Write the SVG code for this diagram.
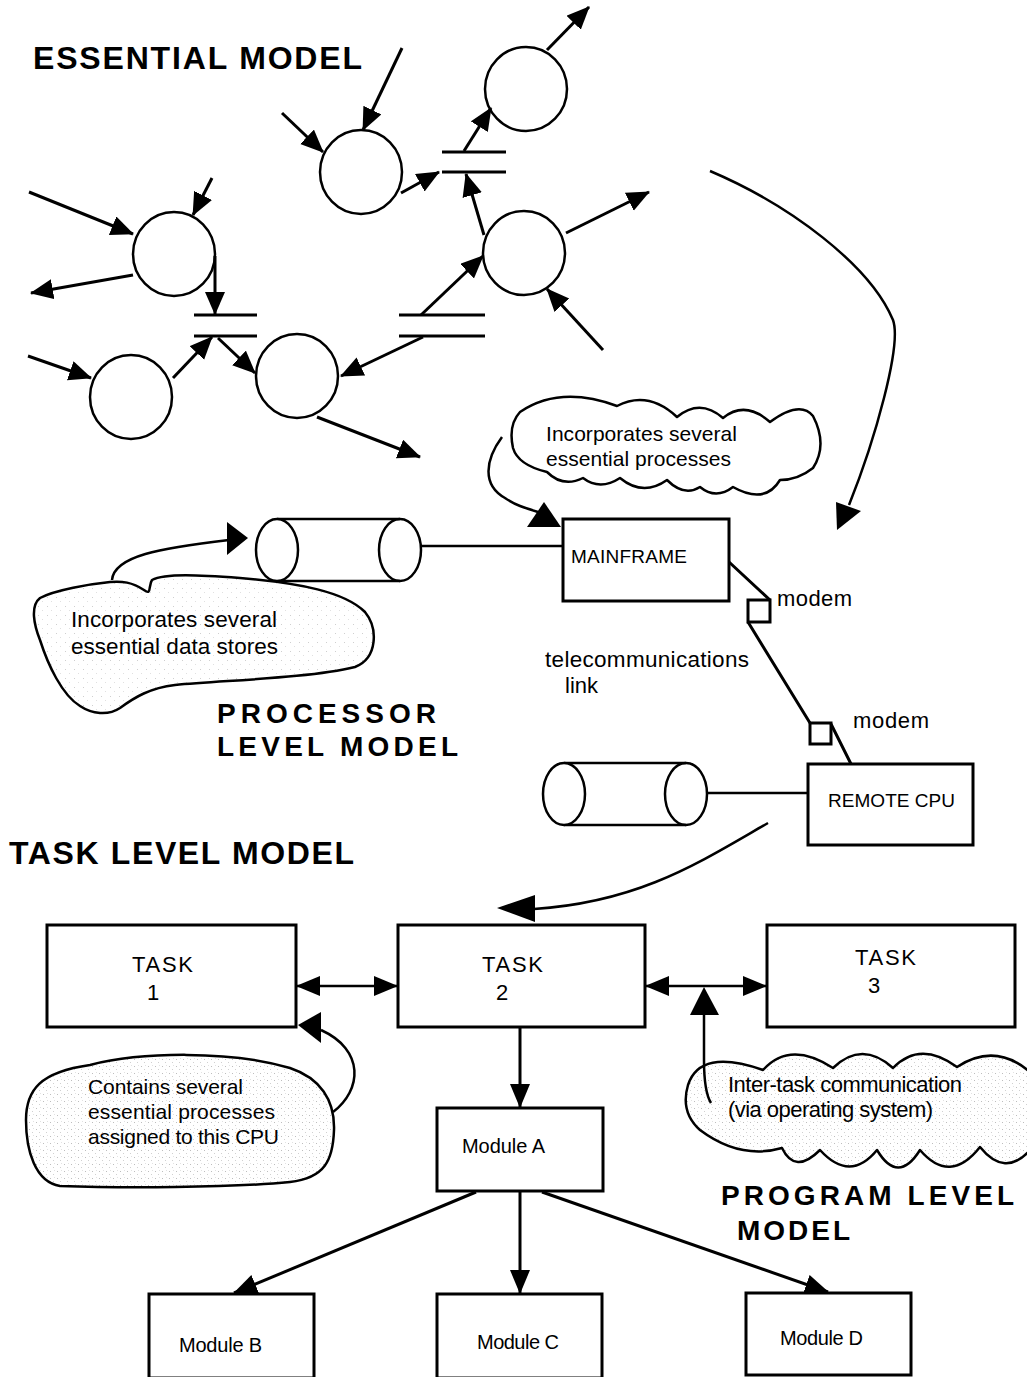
<svg xmlns="http://www.w3.org/2000/svg" width="1027" height="1377" viewBox="0 0 1027 1377">
<style>
.t{font-family:"Liberation Sans",Arial,Helvetica,sans-serif;fill:#000}
.ti{font-weight:bold;font-size:32px}
.ti2{font-weight:bold;font-size:28px}
.s{font-size:20px}
.ln{fill:none;stroke:#000;stroke-width:3}
.thin{fill:none;stroke:#000;stroke-width:2.5}
.shape{fill:#fff;stroke:#000;stroke-width:2.5}
.body{fill:#fff;stroke:none}
.box{fill:#fff;stroke:#000;stroke-width:3}
.cloud{stroke:#000;stroke-width:2.5;stroke-linejoin:round}
.ah{fill:#000;stroke:none}
</style>
<defs>
<marker id="a" markerUnits="userSpaceOnUse" markerWidth="26" markerHeight="22" refX="22" refY="10" orient="auto"><path d="M0,0 L23,10 L0,20 Z" fill="#000"/></marker>
<marker id="b" markerUnits="userSpaceOnUse" markerWidth="26" markerHeight="22" refX="23" refY="10" orient="auto-start-reverse"><path d="M0,0 L24,10 L0,20 Z" fill="#000"/></marker>
<pattern id="stip" width="7" height="7" patternUnits="userSpaceOnUse"><rect width="7" height="7" fill="#fff"/><rect x="1" y="2" width="1" height="1" fill="#bdbdbd"/><rect x="4" y="5" width="1" height="1" fill="#d0d0d0"/><rect x="5" y="1" width="1" height="1" fill="#e2e2e2"/></pattern>
<pattern id="stip2" width="9" height="9" patternUnits="userSpaceOnUse"><rect width="9" height="9" fill="#fff"/><rect x="2" y="3" width="1" height="1" fill="#cfcfcf"/><rect x="6" y="7" width="1" height="1" fill="#e0e0e0"/></pattern>
</defs>

<!-- titles -->
<text class="t ti" x="33" y="69" textLength="329" lengthAdjust="spacing">ESSENTIAL MODEL</text>
<text class="t ti2" x="217" y="723" textLength="219" lengthAdjust="spacing">PROCESSOR</text>
<text class="t ti2" x="217" y="756" textLength="241" lengthAdjust="spacing">LEVEL MODEL</text>
<text class="t ti" x="9" y="864" textLength="345" lengthAdjust="spacing">TASK LEVEL MODEL</text>
<text class="t ti2" x="721" y="1205" textLength="293" lengthAdjust="spacing">PROGRAM LEVEL</text>
<text class="t ti2" x="737" y="1240" textLength="113" lengthAdjust="spacing">MODEL</text>

<!-- essential model processes -->
<g id="p1"><ellipse class="shape" cx="361" cy="172" rx="41" ry="42"/></g>
<g id="p2"><ellipse class="shape" cx="526" cy="89" rx="41" ry="42"/></g>
<g id="p3"><ellipse class="shape" cx="174" cy="254" rx="41" ry="42"/></g>
<g id="p4"><ellipse class="shape" cx="524" cy="253" rx="41" ry="42"/></g>
<g id="p5"><ellipse class="shape" cx="131" cy="397" rx="41" ry="42"/></g>
<g id="p6"><ellipse class="shape" cx="297" cy="376" rx="41" ry="42"/></g>
<g id="ds1"><path class="ln" d="M442,152 H506 M442,172 H506"/></g>
<g id="ds2"><path class="ln" d="M194,315 H257 M194,336 H257"/></g>
<g id="ds3"><path class="ln" d="M399,315 H485 M399,336 H485"/></g>

<!-- clouds -->
<g id="cloud1">
<path class="cloud" fill="#fff" d="M520,412 Q560,385 617,406 Q648,390 677,417 Q700,398 723,418 Q745,400 770,422 Q800,400 813,416 Q828,445 813,468 Q798,480 780,480 Q765,505 733,487 Q716,500 700,487 Q684,497 667,480 Q643,497 620,478 Q600,491 583,478 Q563,488 547,472 Q518,465 513,448 Q508,425 520,412 Z"/>
<text class="t" font-size="21" x="546" y="441" textLength="191" lengthAdjust="spacing">Incorporates several</text>
<text class="t" font-size="21" x="546" y="466" textLength="185" lengthAdjust="spacing">essential processes</text>
</g>
<g id="cloud2">
<path class="cloud" fill="url(#stip2)" d="M110,582 C90,584 55,590 40,598 C30,606 34,625 40,640 C48,665 62,695 80,706 C92,714 108,716 120,708 C135,697 150,688 175,685 C230,680 310,678 355,667 C378,658 378,628 365,612 C345,592 300,583 240,578 C200,575 165,573 152,580 C148,586 152,596 144,590 C132,582 122,581 110,582 Z"/>
<text class="t" font-size="22.5" x="71" y="627" textLength="206" lengthAdjust="spacing">Incorporates several</text>
<text class="t" font-size="22.5" x="71" y="654" textLength="207" lengthAdjust="spacing">essential data stores</text>
</g>
<g id="cloud3">
<path class="cloud" fill="url(#stip)" d="M90,1065 C140,1052 230,1050 290,1068 C320,1078 335,1100 334,1130 C333,1160 325,1178 290,1182 C230,1188 120,1188 60,1186 C35,1182 26,1150 26,1120 C26,1090 40,1072 90,1065 Z"/>
<text class="t" font-size="21" x="88" y="1094" textLength="155" lengthAdjust="spacing">Contains several</text>
<text class="t" font-size="21" x="88" y="1119" textLength="187" lengthAdjust="spacing">essential processes</text>
<text class="t" font-size="21" x="88" y="1144" textLength="191" lengthAdjust="spacing">assigned to this CPU</text>
</g>
<g id="cloud4">
<path class="cloud" fill="url(#stip)" d="M688,1085 Q700,1048 763,1070 Q790,1040 833,1068 Q862,1040 893,1068 Q920,1040 957,1067 Q995,1042 1030,1072 L1030,1150 Q1005,1178 980,1147 Q950,1185 920,1150 Q898,1185 877,1150 Q850,1183 820,1150 Q795,1175 782,1148 Q740,1160 700,1130 Q680,1112 688,1085 Z"/>
<text class="t" font-size="22" x="728" y="1092" textLength="234" lengthAdjust="spacing">Inter-task communication</text>
<text class="t" font-size="22" x="728" y="1117" textLength="205" lengthAdjust="spacing">(via operating system)</text>
</g>

<!-- processor level nodes -->
<g id="store1">
<rect class="body" x="277" y="519" width="123" height="62"/>
<path class="thin" d="M277,519 H400 M277,581 H400"/>
<ellipse class="shape" cx="277" cy="550" rx="21" ry="31"/>
<ellipse class="thin" cx="400" cy="550" rx="21" ry="31"/>
</g>
<g id="mainframe">
<rect class="box" x="563" y="519" width="166" height="82"/>
<text class="t" font-size="19" x="571" y="563" textLength="116" lengthAdjust="spacing">MAINFRAME</text>
</g>
<g id="modem1">
<rect class="box" x="748" y="600" width="22" height="22"/>
<text class="t" font-size="22" x="777" y="606" textLength="75" lengthAdjust="spacing">modem</text>
</g>
<g id="modem2">
<rect class="box" x="810" y="723" width="21" height="21"/>
<text class="t" font-size="22" x="853" y="728" textLength="76" lengthAdjust="spacing">modem</text>
</g>
<g id="telelabel">
<text class="t" font-size="22.5" x="545" y="667" textLength="204" lengthAdjust="spacing">telecommunications</text>
<text class="t" font-size="22" x="565" y="693">link</text>
</g>
<g id="store2">
<rect class="body" x="564" y="763" width="122" height="62"/>
<path class="thin" d="M564,763 H686 M564,825 H686"/>
<ellipse class="shape" cx="564" cy="794" rx="21" ry="31"/>
<ellipse class="thin" cx="686" cy="794" rx="21" ry="31"/>
</g>
<g id="remotecpu">
<rect class="box" x="808" y="764" width="165" height="81"/>
<text class="t" font-size="19" x="828" y="807" textLength="127" lengthAdjust="spacing">REMOTE CPU</text>
</g>

<!-- task level nodes -->
<g id="task1">
<rect class="box" x="47" y="925" width="249" height="102"/>
<text class="t" font-size="22" x="132" y="972" textLength="61" lengthAdjust="spacing">TASK</text>
<text class="t" font-size="22" x="147" y="1000">1</text>
</g>
<g id="task2">
<rect class="box" x="398" y="925" width="247" height="102"/>
<text class="t" font-size="22" x="482" y="972" textLength="61" lengthAdjust="spacing">TASK</text>
<text class="t" font-size="22" x="496" y="1000">2</text>
</g>
<g id="task3">
<rect class="box" x="767" y="925" width="248" height="102"/>
<text class="t" font-size="22" x="855" y="965" textLength="61" lengthAdjust="spacing">TASK</text>
<text class="t" font-size="22" x="868" y="993">3</text>
</g>
<g id="moduleA">
<rect class="box" x="437" y="1108" width="166" height="83"/>
<text class="t s" x="462" y="1153" textLength="83" lengthAdjust="spacing">Module A</text>
</g>
<g id="moduleB">
<rect class="box" x="149" y="1294" width="165" height="84"/>
<text class="t s" x="179" y="1352" textLength="83" lengthAdjust="spacing">Module B</text>
</g>
<g id="moduleC">
<rect class="box" x="437" y="1294" width="165" height="84"/>
<text class="t s" x="477" y="1349" textLength="82" lengthAdjust="spacing">Module C</text>
</g>
<g id="moduleD">
<rect class="box" x="746" y="1293" width="165" height="82"/>
<text class="t s" x="780" y="1345" textLength="83" lengthAdjust="spacing">Module D</text>
</g>

<!-- connectors -->
<g id="connectors">
<g marker-end="url(#a)">
<line class="ln" x1="402" y1="48" x2="363" y2="130"/>
<line class="ln" x1="282" y1="113" x2="323" y2="152"/>
<line class="ln" x1="401" y1="193" x2="439" y2="172"/>
<line class="ln" x1="464" y1="151" x2="491" y2="108"/>
<line class="ln" x1="547" y1="50" x2="589" y2="7"/>
<line class="ln" x1="484" y1="235" x2="466" y2="174"/>
<line class="ln" x1="566" y1="233" x2="649" y2="192"/>
<line class="ln" x1="603" y1="350" x2="547" y2="289"/>
<line class="ln" x1="421" y1="315" x2="483" y2="256"/>
<line class="ln" x1="423" y1="337" x2="341" y2="376"/>
<line class="ln" x1="212" y1="178" x2="193" y2="215"/>
<line class="ln" x1="29" y1="192" x2="133" y2="234"/>
<line class="ln" x1="133" y1="275" x2="31" y2="293"/>
<line class="ln" x1="215" y1="256" x2="215" y2="314"/>
<line class="ln" x1="28" y1="356" x2="91" y2="378"/>
<line class="ln" x1="173" y1="378" x2="212" y2="337"/>
<line class="ln" x1="218" y1="338" x2="255" y2="373"/>
<line class="ln" x1="317" y1="417" x2="420" y2="457"/>
</g>
<!-- big curve to processor level -->
<path class="thin" d="M710,171 C790,205 870,265 893,320 C902,345 875,440 849,505"/>
<polygon class="ah" points="837,530 836,502 861,511"/>
<!-- cloud1 pointer -->
<path class="thin" d="M502,437 C485,460 482,485 505,498 C515,505 525,508 538,512"/>
<polygon class="ah" points="527,527 544,502 561,527"/>
<!-- cloud2 pointer -->
<path class="thin" d="M112,580 C114,556 160,548 229,540"/>
<polygon class="ah" points="248,538 227,522 227,555"/>
<!-- store1 to mainframe -->
<line class="thin" x1="421" y1="546" x2="563" y2="546"/>
<!-- telecommunications link -->
<path class="ln" d="M729,562 L770,600 M748,622 L810,723 M831,724 L851,764"/>
<!-- store2 to remote cpu -->
<line class="thin" x1="707" y1="793" x2="808" y2="793"/>
<!-- curve to task level -->
<path class="thin" d="M768,823 C700,862 640,902 534,909"/>
<polygon class="ah" points="497,908 535,895 535,922"/>
<!-- task connections -->
<line class="thin" x1="297" y1="986" x2="397" y2="986" marker-start="url(#b)" marker-end="url(#b)"/>
<line class="thin" x1="646" y1="986" x2="766" y2="986" marker-start="url(#b)" marker-end="url(#b)"/>
<path class="thin" d="M711,1103 C706,1095 704,1080 704,1060 L704,1012"/>
<polygon class="ah" points="704,987 690,1015 719,1015"/>
<path class="thin" d="M333,1112 C362,1090 365,1050 321,1030"/>
<polygon class="ah" points="298,1025 321,1012 321,1043"/>
<g marker-end="url(#b)">
<line class="ln" x1="520" y1="1028" x2="520" y2="1107"/>
<line class="ln" x1="476" y1="1192" x2="234" y2="1293"/>
<line class="ln" x1="520" y1="1192" x2="520" y2="1293"/>
<line class="ln" x1="542" y1="1192" x2="828" y2="1292"/>
</g>
</g>
</svg>
